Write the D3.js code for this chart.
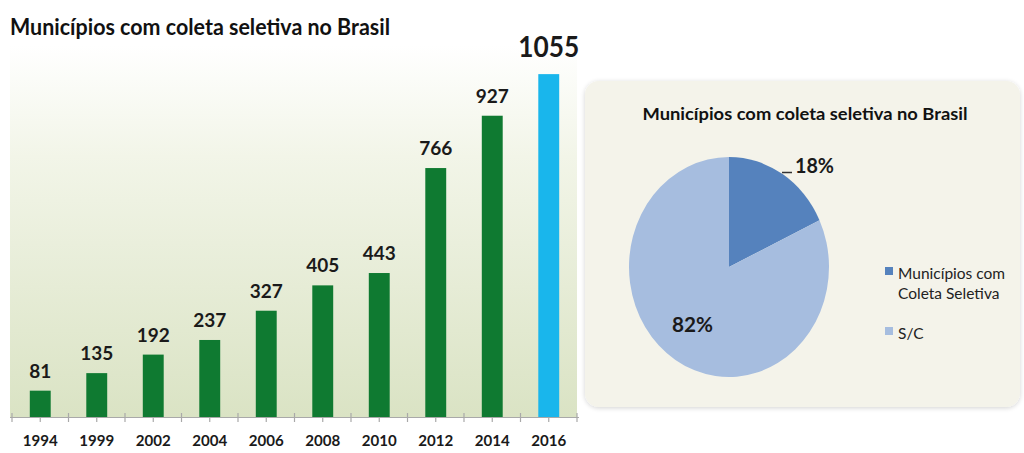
<!DOCTYPE html>
<html>
<head>
<meta charset="utf-8">
<script src="https://cdn.jsdelivr.net/npm/d3@7"></script>
<style>
  html, body { margin: 0; padding: 0; background: #ffffff; }
  svg { display: block; font-family: Lato, "Open Sans", sans-serif; }
</style>
</head>
<body>
<svg id="chart" width="1024" height="453"></svg>
<script>
// Municípios com coleta seletiva, por ano
const years = ["1994", "1999", "2002", "2004", "2006", "2008", "2010", "2012", "2014", "2016"];
const municipios = [81, 135, 192, 237, 327, 405, 443, 766, 927, 1055];

// Participação em 2016
const pieLabels = ["Municípios com Coleta Seletiva", "S/C"];
const pieValues = [18, 82];

const svg = d3.select("#chart");
const defs = svg.append("defs");

// ---------- Bar chart ----------
const bx0 = 12, bx1 = 577, baseY = 417, topY = 59.5;

const bg = defs.append("linearGradient").attr("id", "barBg")
  .attr("x1", 0).attr("y1", 0).attr("x2", 0).attr("y2", 1);
bg.append("stop").attr("offset", "0%").attr("stop-color", "#ffffff");
bg.append("stop").attr("offset", "30%").attr("stop-color", "#f2f5e8");
bg.append("stop").attr("offset", "100%").attr("stop-color", "#dae3c4");

svg.append("rect")
  .attr("x", 10).attr("y", 45)
  .attr("width", bx1 - 10).attr("height", baseY - 45)
  .attr("fill", "url(#barBg)");

const x = d3.scaleBand().domain(years).range([bx0, bx1]).paddingInner(0.63).paddingOuter(0.315);
const y = d3.scaleLinear().domain([0, 1100]).range([baseY, topY]);
const last = years.length - 1;

svg.append("g").selectAll("rect")
  .data(years)
  .join("rect")
  .attr("x", d => x(d))
  .attr("y", (d, i) => y(municipios[i]))
  .attr("width", x.bandwidth())
  .attr("height", (d, i) => baseY - y(municipios[i]))
  .attr("fill", (d, i) => i === last ? "#19b6ec" : "#0f7a31");

// category axis: long ticks between bars, short ticks under each bar
const step = x.step();
const axis = svg.append("g").attr("stroke", "#a9a9a9").attr("stroke-width", 1.2);
axis.append("line").attr("x1", bx0 - 2).attr("x2", bx1 + 2).attr("y1", baseY + 0.5).attr("y2", baseY + 0.5);
const bounds = d3.range(years.length + 1).map(i => bx0 + i * step);
axis.selectAll("line.b").data(bounds).join("line").attr("class", "b")
  .attr("x1", d => d).attr("x2", d => d).attr("y1", baseY - 4).attr("y2", baseY + 5);
axis.selectAll("line.c").data(years).join("line").attr("class", "c")
  .attr("x1", d => x(d) + x.bandwidth() / 2).attr("x2", d => x(d) + x.bandwidth() / 2)
  .attr("y1", baseY).attr("y2", baseY + 5);

svg.append("g").selectAll("text")
  .data(years)
  .join("text")
  .attr("x", d => x(d) + x.bandwidth() / 2)
  .attr("y", 446)
  .attr("text-anchor", "middle")
  .attr("font-size", 16).attr("font-weight", "bold").attr("fill", "#1a1a1a")
  .attr("textLength", 35).attr("lengthAdjust", "spacingAndGlyphs")
  .text(d => d);

// value labels above bars
svg.append("g").selectAll("text")
  .data(years)
  .join("text")
  .attr("x", d => x(d) + x.bandwidth() / 2)
  .attr("y", (d, i) => y(municipios[i]) - (i === last ? 17 : 13))
  .attr("text-anchor", "middle")
  .attr("font-size", (d, i) => i === last ? 28 : 19)
  .attr("font-weight", "bold").attr("fill", "#1a1a1a")
  .each(function (d, i) {
    if (i === last) d3.select(this).attr("textLength", 61).attr("lengthAdjust", "spacingAndGlyphs");
  })
  .text((d, i) => municipios[i]);

svg.append("text")
  .attr("x", 10).attr("y", 35)
  .attr("font-size", 23).attr("font-weight", "bold").attr("fill", "#111")
  .attr("textLength", 380).attr("lengthAdjust", "spacingAndGlyphs")
  .text("Municípios com coleta seletiva no Brasil");

// ---------- Pie chart ----------
const shadow = defs.append("filter").attr("id", "soft").attr("x", "-5%").attr("y", "-5%").attr("width", "110%").attr("height", "110%");
shadow.append("feGaussianBlur").attr("in", "SourceAlpha").attr("stdDeviation", 2.5);
shadow.append("feOffset").attr("dx", 0).attr("dy", 1).attr("result", "b");
shadow.append("feComponentTransfer").append("feFuncA").attr("type", "linear").attr("slope", 0.18);
const fm = shadow.append("feMerge");
fm.append("feMergeNode");
fm.append("feMergeNode").attr("in", "SourceGraphic");

svg.append("rect")
  .attr("x", 585).attr("y", 81).attr("width", 435).attr("height", 326)
  .attr("rx", 14).attr("fill", "#f4f3ea").attr("filter", "url(#soft)");

svg.append("text")
  .attr("x", 805).attr("y", 120)
  .attr("text-anchor", "middle")
  .attr("font-size", 17.5).attr("font-weight", "bold").attr("fill", "#111")
  .attr("textLength", 325).attr("lengthAdjust", "spacingAndGlyphs")
  .text("Municípios com coleta seletiva no Brasil");

const pieColors = d3.scaleOrdinal().domain(pieLabels).range(["#5582bd", "#a6bddf"]);
const pie = d3.pie().sort(null).value(d => d)(pieValues);
const r = 100;
const arc = d3.arc().innerRadius(0).outerRadius(r);
const pg = svg.append("g").attr("transform", "translate(729,267) scale(1,1.1)");
pg.selectAll("path").data(pie).join("path")
  .attr("d", arc)
  .attr("fill", (d, i) => pieColors(pieLabels[i]));

// percentage labels
svg.append("text").attr("x", 795).attr("y", 173)
  .attr("font-size", 20).attr("font-weight", "bold").attr("fill", "#1a1a1a")
  .attr("textLength", 39).attr("lengthAdjust", "spacingAndGlyphs")
  .text(pieValues[0] + "%");
svg.append("line").attr("x1", 782).attr("x2", 792).attr("y1", 172.5).attr("y2", 172.5)
  .attr("stroke", "#333").attr("stroke-width", 1.5);
svg.append("text").attr("x", 672).attr("y", 332)
  .attr("font-size", 20).attr("font-weight", "bold").attr("fill", "#1a1a1a")
  .attr("textLength", 41).attr("lengthAdjust", "spacingAndGlyphs")
  .text(pieValues[1] + "%");

// legend
const leg = svg.append("g").attr("font-size", 15.5).attr("fill", "#222");
leg.append("rect").attr("x", 885).attr("y", 267).attr("width", 8).attr("height", 8).attr("fill", pieColors(pieLabels[0]));
leg.append("text").attr("x", 898).attr("y", 279).text("Municípios com");
leg.append("text").attr("x", 898).attr("y", 299).text("Coleta Seletiva");
leg.append("rect").attr("x", 885).attr("y", 327).attr("width", 8).attr("height", 8).attr("fill", pieColors(pieLabels[1]));
leg.append("text").attr("x", 898).attr("y", 339).text("S/C");
</script>
</body>
</html>
